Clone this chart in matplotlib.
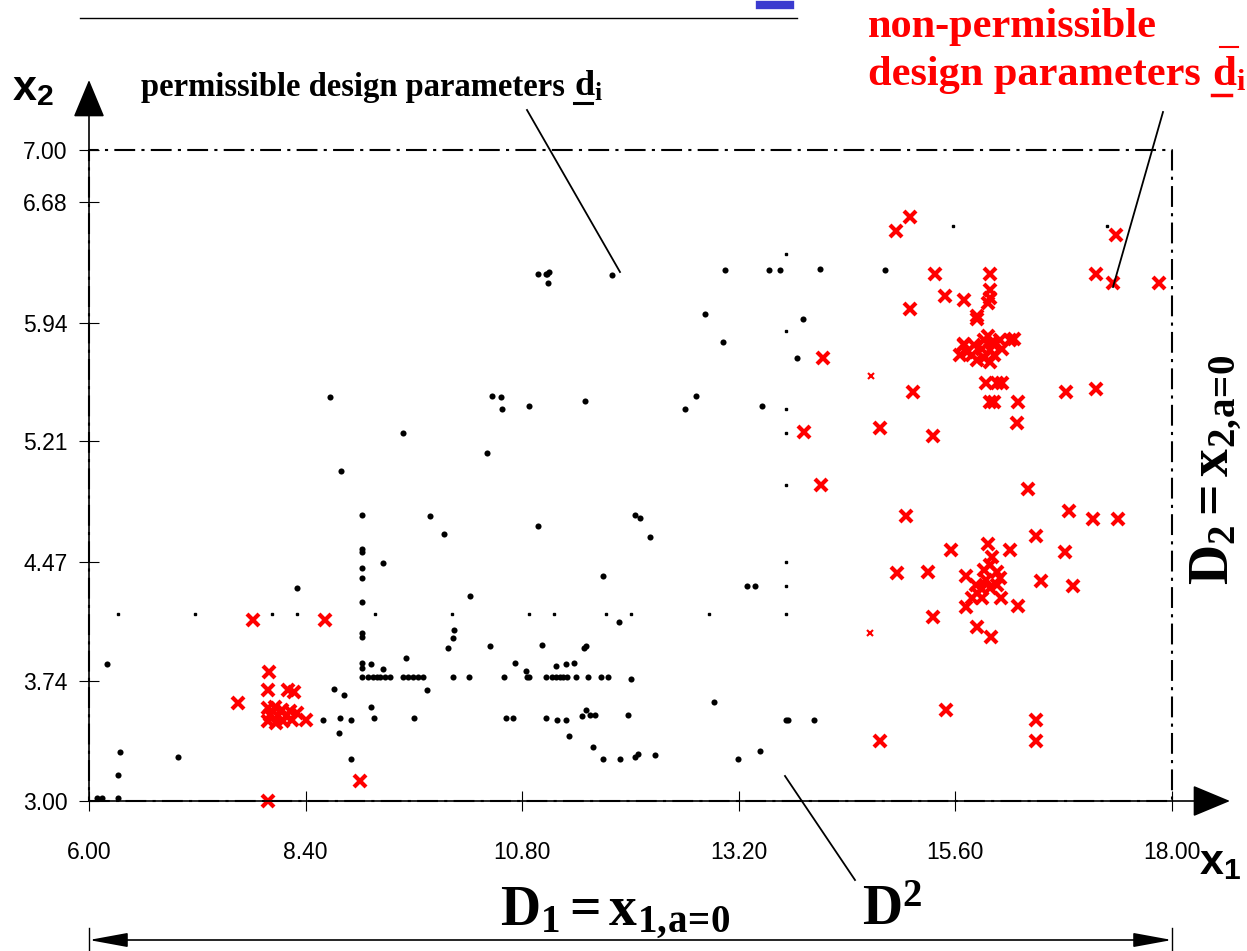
import matplotlib
matplotlib.use("Agg")
import matplotlib.pyplot as plt

plt.rcParams['font.family'] = ['Liberation Sans', 'DejaVu Sans']
plt.rcParams['mathtext.fontset'] = 'custom'
plt.rcParams['mathtext.rm'] = 'Liberation Serif'
plt.rcParams['mathtext.bf'] = 'Liberation Serif:bold'
plt.rcParams['mathtext.it'] = 'Liberation Serif:italic'
plt.rcParams['mathtext.sf'] = 'Liberation Sans:bold'

W, H = 1247, 951

# axis ticks
x_ticks = [6.00, 8.40, 10.80, 13.20, 15.60, 18.00]
y_ticks = [3.00, 3.74, 4.47, 5.21, 5.94, 6.68, 7.00]
x_range = [6.00, 18.00]
y_range = [3.00, 7.00]

# permissible design parameters (black dots)
perm_x1 = [10.98, 11.06, 11.08, 11.10, 11.09, 11.80, 13.05, 13.53, 13.66, 14.10, 14.82,
           12.82, 13.91, 13.03, 13.84, 12.73, 12.60, 13.46, 12.05, 12.10, 12.22,
           8.67, 10.47, 10.57, 10.58, 10.87, 11.50, 9.48, 10.41, 8.79, 9.03, 9.78, 9.93, 10.98, 9.03,
           9.03, 9.26, 9.03, 9.03, 10.22, 11.69, 9.03, 11.87, 9.03, 9.03, 10.04, 10.03, 9.98, 10.44,
           11.02, 11.51, 11.49, 9.51, 9.03, 9.12, 11.37, 10.72, 10.84, 11.17, 11.29, 9.03, 9.26, 8.31,
           9.03, 9.09, 9.15, 9.19, 9.22, 9.28, 9.34, 9.48, 9.53, 9.59, 9.65, 9.70, 10.03, 10.21,
           10.60, 10.85, 10.88, 11.06, 11.13, 11.17, 11.22, 11.25, 11.30, 11.40, 11.53, 11.67, 11.75, 12.01,
           8.72, 8.83, 9.75, 9.13, 8.59, 8.78, 8.90, 9.16, 9.60, 10.62, 10.70, 11.06, 11.19, 11.29,
           11.51, 11.46, 11.55, 11.61, 11.97, 8.77, 11.32, 11.59, 8.90, 11.70, 11.88, 12.05, 12.08, 12.27,
           13.29, 13.38, 12.93, 13.72, 13.75, 14.03, 13.19, 13.43,
           6.20, 6.34, 6.32, 6.99, 6.09, 6.14, 6.32]
perm_x2 = [6.24, 6.24, 6.24, 6.25, 6.18, 6.23, 6.26, 6.26, 6.26, 6.27, 6.26,
           5.99, 5.96, 5.82, 5.72, 5.49, 5.41, 5.43, 4.76, 4.74, 4.62,
           5.48, 5.49, 5.48, 5.41, 5.43, 5.46, 5.26, 5.14, 5.03, 4.76, 4.75, 4.64, 4.69, 4.55,
           4.53, 4.46, 4.43, 4.37, 4.26, 4.38, 4.22, 4.10, 4.03, 4.01, 4.05, 4.00, 3.94, 3.95,
           3.96, 3.95, 3.94, 3.88, 3.85, 3.84, 3.85, 3.85, 3.80, 3.83, 3.84, 3.82, 3.81, 4.31,
           3.76, 3.76, 3.76, 3.76, 3.76, 3.76, 3.76, 3.76, 3.76, 3.76, 3.76, 3.76, 3.76, 3.76,
           3.76, 3.76, 3.76, 3.76, 3.76, 3.76, 3.76, 3.76, 3.76, 3.76, 3.76, 3.76, 3.76, 3.75,
           3.69, 3.65, 3.68, 3.58, 3.50, 3.51, 3.50, 3.51, 3.51, 3.51, 3.51, 3.51, 3.50, 3.50,
           3.56, 3.52, 3.53, 3.53, 3.53, 3.42, 3.40, 3.33, 3.26, 3.26, 3.26, 3.27, 3.29, 3.28,
           4.32, 4.32, 3.61, 3.50, 3.50, 3.50, 3.26, 3.31,
           3.84, 3.30, 3.16, 3.27, 3.02, 3.02, 3.02]

# very small black points
tiny_x1 = [6.32, 7.17, 8.03, 8.31, 9.17, 10.02, 10.87, 11.15, 11.73, 12.01, 12.87, 13.72,
           13.72, 13.72, 13.72, 13.72, 13.72, 13.72, 13.72, 15.57, 17.28]
tiny_x2 = [4.15, 4.15, 4.15, 4.15, 4.15, 4.15, 4.15, 4.15, 4.15, 4.15, 4.15, 4.15,
           6.36, 5.89, 5.41, 5.26, 4.94, 4.47, 4.32, 6.53, 6.53]

# non-permissible design parameters (red crosses)
nonperm_x1 = [7.82, 8.62, 7.99, 7.98, 8.20, 8.27, 7.65, 7.98, 8.06, 8.14, 8.00, 8.09, 8.18,
              7.98, 8.07, 8.15, 8.23, 8.25, 8.31, 8.40, 9.00, 7.98,
              14.13, 13.92, 14.11, 15.10, 14.94, 15.37, 15.98, 17.16, 17.35, 17.38, 17.86,
              15.49, 15.69, 15.10, 15.98, 15.98, 15.96, 15.84, 15.84,
              15.70, 15.78, 15.84, 15.92, 15.98, 16.03, 16.09, 16.20, 15.92, 15.81,
              15.73, 15.98, 15.89, 16.03, 16.12, 15.96, 16.25, 15.65, 16.00, 15.69,
              15.94, 16.06, 16.12, 15.98, 16.03, 16.29, 15.13, 16.82, 17.16, 16.28, 14.77, 15.35, 16.40,
              15.05, 16.86, 17.13, 17.40, 16.49, 15.55, 15.96, 16.21, 16.81, 14.95, 15.30, 16.55,
              16.90, 15.72, 16.29, 15.35, 15.84, 15.99,
              16.00, 15.92, 16.06, 15.83, 15.90, 15.98, 16.06, 16.11, 15.78, 15.89, 15.72,
              15.84, 15.94, 15.98, 16.09,
              15.50, 14.76, 16.49, 16.49]
nonperm_x2 = [4.11, 4.11, 3.79, 3.68, 3.68, 3.67, 3.60, 3.57, 3.58, 3.56, 3.53, 3.52, 3.52,
              3.49, 3.48, 3.49, 3.55, 3.50, 3.54, 3.50, 3.12, 3.00,
              5.72, 5.27, 4.94, 6.59, 6.50, 6.24, 6.24, 6.24, 6.18, 6.48, 6.18,
              6.10, 6.08, 6.02, 6.14, 6.09, 6.06, 5.98, 5.96,
              5.80, 5.74, 5.71, 5.72, 5.77, 5.80, 5.83, 5.83, 5.83, 5.80,
              5.76, 5.70, 5.78, 5.74, 5.78, 5.86, 5.84, 5.74, 5.82, 5.81,
              5.57, 5.57, 5.57, 5.45, 5.45, 5.45, 5.51, 5.51, 5.53, 5.32, 5.29, 5.24, 4.92,
              4.75, 4.78, 4.73, 4.73, 4.63, 4.54, 4.58, 4.54, 4.53, 4.40, 4.41, 4.35,
              4.32, 4.38, 4.20, 4.13, 4.07, 4.01,
              4.50, 4.42, 4.41, 4.33, 4.30, 4.31, 4.33, 4.25, 4.25, 4.25, 4.19,
              4.28, 4.36, 4.45, 4.37,
              3.56, 3.37, 3.50, 3.37]

# two small red crosses
small_x1 = [14.67, 14.65]
small_x2 = [5.61, 4.03]


def fx(px):
    return px / W


def fy(py):
    return 1 - py / H


fig = plt.figure(figsize=(W / 100, H / 100), dpi=100)
ax = fig.add_axes([fx(89), fy(801), (1172 - 89) / W, (801 - 150) / H])
ax.set_xlim(x_range)
ax.set_ylim(y_range)
for s in ax.spines.values():
    s.set_visible(False)

ax.set_xticks(x_ticks)
ax.set_xticklabels([f"{v:.2f}" for v in x_ticks])
ax.set_yticks(y_ticks)
ax.set_yticklabels([f"{v:.2f}" for v in y_ticks])
ax.tick_params(axis='x', direction='inout', length=15, width=0.8, pad=21, labelsize=16.5)
ax.tick_params(axis='y', direction='inout', length=15, width=0.8, pad=8, labelsize=16.5)

# dash-dot boundary of the design space
ax.plot([x_range[0], x_range[1], x_range[1], x_range[0], x_range[0]],
        [y_range[0], y_range[0], y_range[1], y_range[1], y_range[0]],
        color='black', lw=1.5, ls=(0, (10, 3, 1.5, 3)), clip_on=False)

# points
ax.plot(tiny_x1, tiny_x2, ls='none', marker='s', ms=1.6, color='black', clip_on=False)
ax.plot(perm_x1, perm_x2, ls='none', marker='o', ms=4.4, mew=0, color='black', clip_on=False)
ax.plot(nonperm_x1, nonperm_x2, ls='none', marker='x', ms=9, mew=3, color='#ff0000', clip_on=False)
ax.plot(small_x1, small_x2, ls='none', marker='x', ms=5, mew=1.5, color='#ff0000', clip_on=False)

# axis arrows
arrow_kw = dict(arrowstyle='-|>,head_length=1.2,head_width=0.5', lw=1.2, color='black',
                shrinkA=0, shrinkB=0, mutation_scale=20)
fig.add_artist(matplotlib.patches.FancyArrowPatch((fx(89), fy(801)), (fx(1230), fy(801)),
                                                  transform=fig.transFigure, **arrow_kw))
fig.add_artist(matplotlib.patches.FancyArrowPatch((fx(89), fy(801)), (fx(89), fy(80)),
                                                  transform=fig.transFigure, **arrow_kw))
# extent arrow for D1
fig.add_artist(matplotlib.patches.FancyArrowPatch(
    (fx(89), fy(940)), (fx(1172), fy(940)), transform=fig.transFigure,
    arrowstyle='<|-|>,head_length=1.2,head_width=0.22', lw=1.2, color='black',
    shrinkA=0, shrinkB=0, mutation_scale=20))


def line(p0, p1, **kw):
    fig.add_artist(plt.Line2D([fx(p0[0]), fx(p1[0])], [fy(p0[1]), fy(p1[1])],
                              transform=fig.transFigure, **kw))


line((89, 928), (89, 951), color='black', lw=1)
line((1172, 928), (1172, 951), color='black', lw=1)

# leader lines
line((527, 110), (620, 272), color='black', lw=1.3)
line((1163, 112), (1113, 287), color='black', lw=1.3)
line((785, 776), (855, 880), color='black', lw=1.3)

# header rule left over from the slide
line((80, 18), (797, 18), color='black', lw=1)
line((760, 5), (790, 5), color='#3a3acf', lw=6)

# axis names
fig.text(fx(33), fy(100), r"$\mathsf{x}_\mathsf{2}$", fontsize=31, ha='center', va='baseline')
fig.text(fx(1220), fy(874), r"$\mathsf{x}_\mathsf{1}$", fontsize=31, ha='center', va='baseline')

# labels
fig.text(fx(565), fy(96), "permissible design parameters", fontsize=23.5,
         family='Liberation Serif', weight='bold', ha='right', va='baseline')
fig.text(fx(574), fy(96), r"$\mathbf{d}_\mathbf{i}$", fontsize=26, ha='left', va='baseline')
line((574, 103), (592, 103), color='black', lw=2.2)

red = '#ff0000'
fig.text(fx(868), fy(37), "non-permissible", fontsize=30.5, color=red,
         family='Liberation Serif', weight='bold', ha='left', va='baseline')
fig.text(fx(868), fy(85), "design parameters", fontsize=30.5, color=red,
         family='Liberation Serif', weight='bold', ha='left', va='baseline')
fig.text(fx(1212), fy(85), r"$\mathbf{d}_\mathbf{i}$", fontsize=31, color=red,
         ha='left', va='baseline')
line((1212, 95), (1231, 95), color=red, lw=2.5)
line((1220, 47), (1238, 47), color=red, lw=1.5)

fig.text(fx(615), fy(925), r"$\mathbf{D_1 = x_{1,\!a\!=\!0}}$", fontsize=40,
         ha='center', va='baseline')
fig.text(fx(862), fy(925), r"$\mathbf{D^2}$", fontsize=40, ha='left', va='baseline')
fig.text(fx(1216), fy(470), r"$\mathbf{D_2 = x_{2,\!a\!=\!0}}$", fontsize=40, rotation=90,
         ha='center', va='center')

fig.savefig('out.png', dpi=100)
